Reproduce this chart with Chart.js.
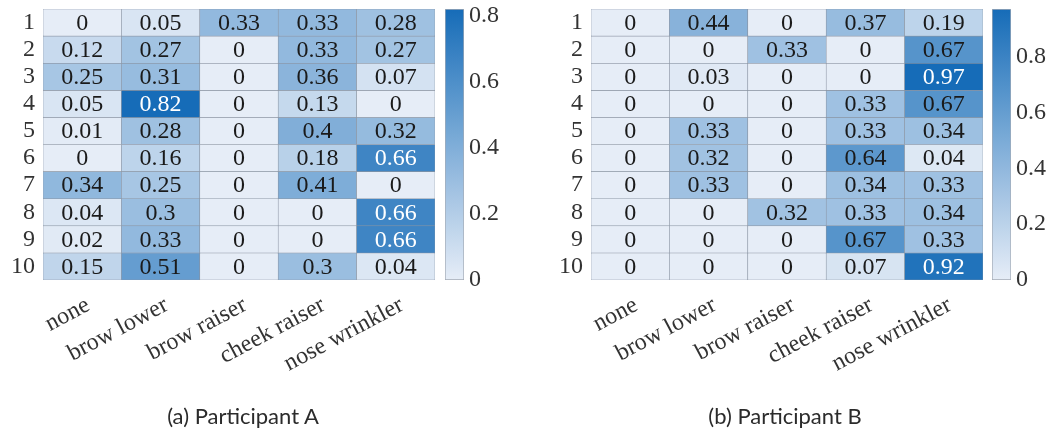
<!DOCTYPE html>
<html>
<head>
<meta charset="utf-8">
<script src="https://cdn.jsdelivr.net/npm/chart.js@4/dist/chart.umd.min.js"></script>
<style>
  html, body { margin: 0; padding: 0; background: #fff; }
  #fig { position: relative; width: 1051px; height: 430px; overflow: hidden; }
  canvas { position: absolute; }
  .cap { position: absolute; top: 404px; line-height: 24px; font-family: Lato, "Open Sans", sans-serif;
         font-size: 22px; color: #2b2b2b; white-space: nowrap; transform: translateX(-50%); }
</style>
</head>
<body>
<div id="fig">
  <canvas id="heatA" width="440" height="430" style="left:0px;top:0px"></canvas>
  <canvas id="barA" width="90" height="300" style="left:445px;top:0px"></canvas>
  <canvas id="heatB" width="440" height="430" style="left:548px;top:0px"></canvas>
  <canvas id="barB" width="59" height="300" style="left:992px;top:0px"></canvas>
  <div class="cap" style="left:243px">(a) Participant A</div>
  <div class="cap" style="left:785px">(b) Participant B</div>
</div>
<script>
// Facial action categories (columns) and session numbers (rows)
const expressions = ['none', 'brow lower', 'brow raiser', 'cheek raiser', 'nose wrinkler'];
const sessions = [1, 2, 3, 4, 5, 6, 7, 8, 9, 10];

// Proportion of each expression per session
const participantA = [
  [0,    0.05, 0.33, 0.33, 0.28],
  [0.12, 0.27, 0,    0.33, 0.27],
  [0.25, 0.31, 0,    0.36, 0.07],
  [0.05, 0.82, 0,    0.13, 0],
  [0.01, 0.28, 0,    0.4,  0.32],
  [0,    0.16, 0,    0.18, 0.66],
  [0.34, 0.25, 0,    0.41, 0],
  [0.04, 0.3,  0,    0,    0.66],
  [0.02, 0.33, 0,    0,    0.66],
  [0.15, 0.51, 0,    0.3,  0.04]
];
const participantB = [
  [0, 0.44, 0,    0.37, 0.19],
  [0, 0,    0.33, 0,    0.67],
  [0, 0.03, 0,    0,    0.97],
  [0, 0,    0,    0.33, 0.67],
  [0, 0.33, 0,    0.33, 0.34],
  [0, 0.32, 0,    0.64, 0.04],
  [0, 0.33, 0,    0.34, 0.33],
  [0, 0,    0.32, 0.33, 0.34],
  [0, 0,    0,    0.67, 0.33],
  [0, 0,    0,    0.07, 0.92]
];

// Colour bar tick labels
const colorbarTicks = [0, 0.2, 0.4, 0.6, 0.8];

const LIGHT = [230, 237, 247];
const DARK = [22, 108, 184];
const SERIF = "'Liberation Serif', 'DejaVu Serif', serif";
const TEXT = '#333333';
const FONT_SIZE = 24;

function mix(t) {
  t = Math.max(0, Math.min(1, t));
  const c = LIGHT.map((l, k) => Math.round(l + (DARK[k] - l) * t));
  return `rgb(${c[0]},${c[1]},${c[2]})`;
}

// Writes each cell's value at the centre of its bar
const cellValues = {
  id: 'cellValues',
  afterDatasetsDraw(chart, args, opts) {
    const ctx = chart.ctx;
    ctx.save();
    ctx.font = `${FONT_SIZE}px ${SERIF}`;
    ctx.textAlign = 'center';
    ctx.textBaseline = 'middle';
    chart.data.datasets.forEach((ds, i) => {
      const meta = chart.getDatasetMeta(i);
      meta.data.forEach((bar, j) => {
        const v = opts.values[i][j];
        const p = bar.getProps(['x', 'y', 'base'], true);
        ctx.fillStyle = v / opts.max > 0.75 ? '#ffffff' : '#1a1a1a';
        ctx.fillText(String(v), p.x, (p.y + p.base) / 2 + 1);
      });
    });
    ctx.restore();
  }
};

function heatmap(id, values) {
  const max = Math.max(...values.flat());
  return new Chart(document.getElementById(id), {
    type: 'bar',
    data: {
      labels: expressions,
      datasets: sessions.map((s, i) => ({
        label: 'Session ' + s,
        data: expressions.map(() => [s - 0.5, s + 0.5]),
        backgroundColor: values[i].map(v => mix(v / max)),
        borderColor: '#8a94a2',
        borderWidth: 0.6,
        borderSkipped: false,
        grouped: false,
        barPercentage: 1,
        categoryPercentage: 1
      }))
    },
    options: {
      responsive: false,
      animation: false,
      devicePixelRatio: 1,
      layout: { padding: { left: 0, top: 9, right: 5, bottom: 21 } },
      plugins: {
        legend: { display: false },
        tooltip: { enabled: false },
        cellValues: { values, max }
      },
      scales: {
        x: {
          type: 'category',
          offset: true,
          grid: { display: false, drawTicks: false },
          border: { display: false },
          ticks: {
            autoSkip: false, minRotation: 28, maxRotation: 28, padding: 11, labelOffset: 6,
            color: TEXT, font: { family: SERIF, size: FONT_SIZE }
          },
          afterFit(s) { s.height = 129; s.paddingLeft = 0; s.paddingRight = 0; }
        },
        y: {
          type: 'linear',
          min: 0.5, max: 10.5, reverse: true,
          grid: { display: false, drawTicks: false },
          border: { display: false },
          afterBuildTicks(s) { s.ticks = sessions.map(v => ({ value: v })); },
          ticks: {
            autoSkip: false, padding: 8, color: TEXT,
            font: { family: SERIF, size: FONT_SIZE }, callback: v => String(v)
          },
          afterFit(s) { s.width = 43; s.paddingTop = 0; s.paddingBottom = 0; }
        }
      }
    },
    plugins: [cellValues]
  });
}

function colorbar(id, values, canvasWidth) {
  const max = Math.max(...values.flat());
  return new Chart(document.getElementById(id), {
    type: 'bar',
    data: {
      labels: ['scale'],
      datasets: [{
        data: [[0, max]],
        backgroundColor(c) {
          const ch = c.chart;
          if (!ch.chartArea) return mix(0);
          const y = ch.scales.y;
          const g = ch.ctx.createLinearGradient(0, y.getPixelForValue(0), 0, y.getPixelForValue(max));
          for (let k = 0; k <= 10; k++) g.addColorStop(k / 10, mix(k / 10));
          return g;
        },
        borderColor: '#a3abb6',
        borderWidth: 1,
        borderSkipped: false,
        barPercentage: 1,
        categoryPercentage: 1
      }]
    },
    options: {
      responsive: false,
      animation: false,
      devicePixelRatio: 1,
      layout: { padding: { left: 0, top: 9, right: 0, bottom: 20 } },
      plugins: { legend: { display: false }, tooltip: { enabled: false } },
      scales: {
        x: { display: false },
        y: {
          position: 'right',
          min: 0, max,
          grid: { display: false, drawTicks: false },
          border: { display: false },
          afterBuildTicks(s) { s.ticks = colorbarTicks.map(v => ({ value: v })); },
          ticks: {
            autoSkip: false, padding: 5, color: TEXT,
            font: { family: SERIF, size: FONT_SIZE }, callback: v => String(v)
          },
          afterFit(s) { s.width = canvasWidth - 19; s.paddingTop = 0; s.paddingBottom = 0; }
        }
      }
    }
  });
}

heatmap('heatA', participantA);
colorbar('barA', participantA, 90);
heatmap('heatB', participantB);
colorbar('barB', participantB, 59);
</script>
</body>
</html>
